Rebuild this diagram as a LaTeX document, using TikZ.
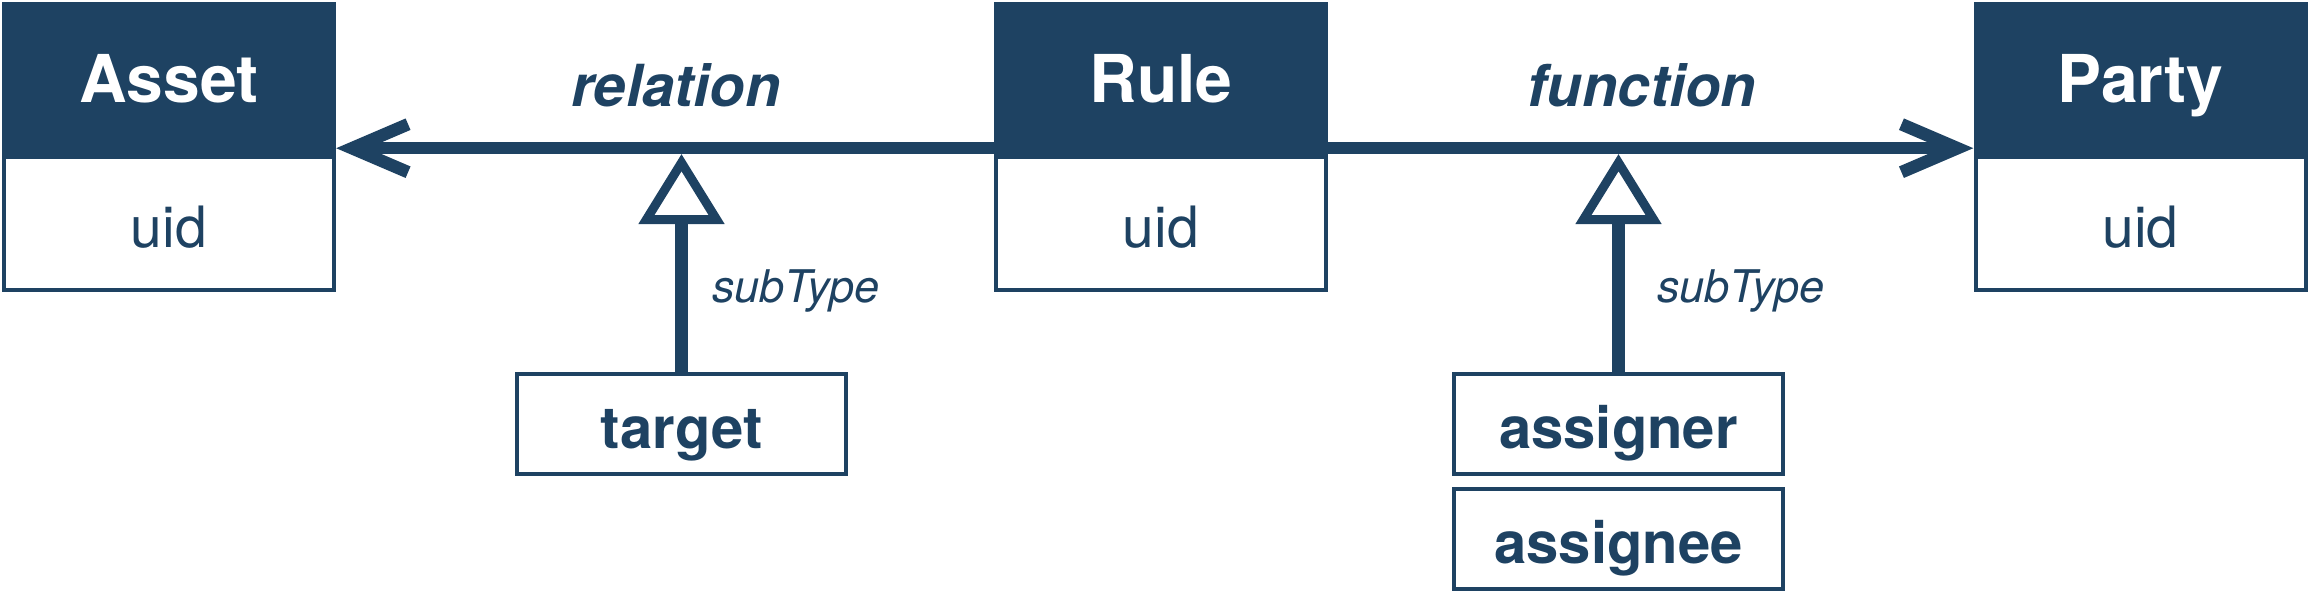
\documentclass[tikz,border=0pt]{standalone}
\usepackage{fontspec}
\setmainfont{TeX Gyre Heros}
\usepackage{tikz}
\usetikzlibrary{arrows.meta}
\definecolor{odrlblue}{HTML}{1E4262}

\begin{document}
\begin{tikzpicture}[x=1pt,y=-1pt]
    \tikzstyle{head}=[fill=odrlblue,draw=none,text=white,minimum width=334pt,minimum height=153pt,inner sep=0pt,font=\fontsize{66pt}{70pt}\selectfont\bfseries,text height=47pt,text depth=0pt]
    \tikzstyle{attr}=[draw=odrlblue,line width=4pt,fill=white,text=odrlblue,minimum width=330pt,minimum height=133pt,inner sep=0pt,font=\fontsize{57pt}{60pt}\selectfont,text height=47pt,text depth=0pt]
    \tikzstyle{sub}=[draw=odrlblue,line width=4pt,fill=white,text=odrlblue,minimum width=329pt,minimum height=100pt,inner sep=0pt,font=\fontsize{58pt}{60pt}\selectfont\bfseries,text height=48pt,text depth=0pt]
    \tikzstyle{role}=[text=odrlblue,inner sep=0pt,anchor=base,font=\fontsize{58pt}{60pt}\selectfont\bfseries\itshape]
    \tikzstyle{note}=[text=odrlblue,inner sep=0pt,anchor=base west,font=\fontsize{45pt}{48pt}\selectfont\itshape]
    \tikzstyle{assoc}=[draw=odrlblue,line width=12.5pt,-{Straight Barb[sharp,length=56pt,width=48pt]}]
    \tikzstyle{gen}=[draw=odrlblue,line width=12.5pt,-{Triangle[open,line width=9pt,length=70pt,width=84pt]}]

    \useasboundingbox (0,0) rectangle (2312,595);

    \def\HY{78.5}
    \def\BY{223.5}

    \node[head] (assethead) at (169,\HY) {Asset};
    \node[attr] (assetbody) at (169,\BY) {uid};
    \node[head] (rulehead)  at (1161,\HY) {Rule};
    \node[attr] (rulebody)  at (1161,\BY) {uid};
    \node[head] (partyhead) at (2140.5,\HY) {Party};
    \node[attr] (partybody) at (2140.5,\BY) {uid};

    \node[sub] (target)   at (681.5,424) {target};
    \node[sub] (assigner) at (1618.5,424) {assigner};
    \node[sub] (assignee) at (1618.5,539) {assignee};

    \node[role] (relation) at (676,106) {relation};
    \node[role] (function) at (1642,106) {function};
    \node[note] (subrel) at (712,302) {subType};
    \node[note] (subfun) at (1657,302) {subType};

    \coordinate (rel) at (681.5,154);
    \coordinate (fun) at (1618.5,154);

    \path[assoc] ([yshift=7pt]rulehead.south west) -- ([yshift=7pt]assethead.south east);
    \path[assoc] ([yshift=7pt]rulehead.south east) -- ([yshift=7pt]partyhead.south west);

    \path[gen] (target.north) -- (rel);
    \path[gen] (assigner.north) -- (fun);
\end{tikzpicture}
\end{document}
